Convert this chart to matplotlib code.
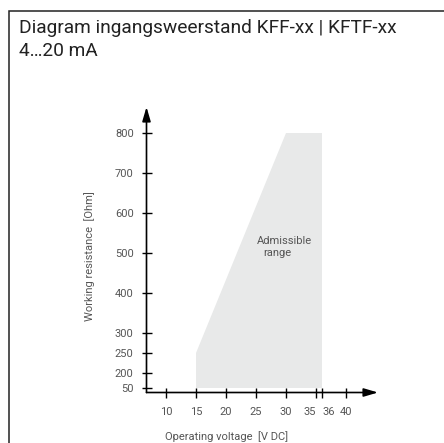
import numpy as np
import matplotlib
matplotlib.use("Agg")
import matplotlib.pyplot as plt
from matplotlib.patches import Rectangle, Polygon

# ---- data ----
title_line1 = "Diagram ingangsweerstand KFF-xx | KFTF-xx"
title_line2 = "4…20 mA"
x_label = "Operating voltage  [V DC]"
y_label = "Working resistance  [Ohm]"
region_label_lines = ["Admissible", "range"]
x_ticks = [10, 15, 20, 25, 30, 35, 36, 40]
y_ticks = [50, 200, 250, 300, 400, 500, 600, 700, 800]
region_voltage = [15, 15, 30, 36, 36]
region_resistance = [50, 250, 800, 800, 50]

W, H = 444, 443
fig = plt.figure(figsize=(W / 100, H / 100), dpi=100)
fig.patch.set_facecolor("white")

def px(x, y):
    return x / W, 1 - y / H

# outer frame
fig.patches.append(Rectangle(px(9, 500), 1.0, 1 - px(0, 500)[1] - 10.5 / H,
                             transform=fig.transFigure, fill=False,
                             edgecolor="#222222", linewidth=1.1))

tfont = dict(family="Roboto", stretch="normal", fontsize=13.8, color="#222222")
fig.text(*px(19, 32.7), title_line1, ha="left", va="baseline", **tfont)
fig.text(*px(19, 56), title_line2, ha="left", va="baseline", **tfont)

# axes placement (pixel geometry)
left, right, top, bottom = 146.5, 378, 107, 392.5
ax = fig.add_axes([left / W, (H - bottom) / H, (right - left) / W, (bottom - top) / H])
ax.set_facecolor("none")

def fwd(v):
    v = np.asarray(v, dtype=float)
    return np.where(v >= 200, v, 200 - (200 - v) / 4)

def inv(f):
    f = np.asarray(f, dtype=float)
    return np.where(f >= 200, f, 200 - (200 - f) * 4)

ax.set_yscale("function", functions=(fwd, inv))
xmin = 10 - (166 - left) / 6
xmax = 40 + (right - 346) / 6
ax.set_xlim(xmin, xmax)
ymin_f = 800 - (bottom - 133) / 0.4
ymax_f = 800 + (133 - top) / 0.4
ax.set_ylim(float(inv(ymin_f)), ymax_f)

ax.add_patch(Polygon(list(zip(region_voltage, region_resistance)), closed=True,
                     facecolor="#e8e9e9", edgecolor="none", zorder=1))
lfont = dict(fontsize=8, family="Roboto", color="#555555", zorder=3)
ax.text(29.7, 530, region_label_lines[0], ha="center", va="center", **lfont)
ax.text(28.5, 500, region_label_lines[1], ha="center", va="center", **lfont)

for s in ax.spines.values():
    s.set_visible(False)

astyle = "-|>,head_length=0.85,head_width=0.25"
ax.annotate("", xy=(1.0, 0), xytext=(0, 0), xycoords="axes fraction",
            arrowprops=dict(arrowstyle=astyle, color="black", lw=1.2,
                            shrinkA=0, shrinkB=0, mutation_scale=10),
            annotation_clip=False)
ax.annotate("", xy=(0, 1.0), xytext=(0, 0), xycoords="axes fraction",
            arrowprops=dict(arrowstyle=astyle, color="black", lw=1.2,
                            shrinkA=0, shrinkB=0, mutation_scale=10),
            annotation_clip=False)

ax.set_xticks(x_ticks)
ax.set_xticklabels([str(t) for t in x_ticks])
ax.set_yticks(y_ticks)
ax.set_yticklabels([str(t) for t in y_ticks])
ax.minorticks_off()
ax.tick_params(axis="both", direction="inout", length=6.5, width=1.0, color="black",
               labelsize=8, labelcolor="#555555")
ax.tick_params(axis="x", pad=7)
ax.tick_params(axis="y", pad=6)
for lab in ax.get_xticklabels() + ax.get_yticklabels():
    lab.set_family("Roboto")
xl = ax.get_xticklabels()
xl[5].set_ha("right")
xl[6].set_ha("left")

fig.text(*px(227, 437), x_label, fontsize=8, family="Roboto", color="#555555",
         ha="center", va="center")
fig.text(*px(90, 256), y_label, fontsize=8, family="Roboto", color="#555555",
         ha="center", va="center", rotation=90)

fig.savefig("out.png", dpi=100)
